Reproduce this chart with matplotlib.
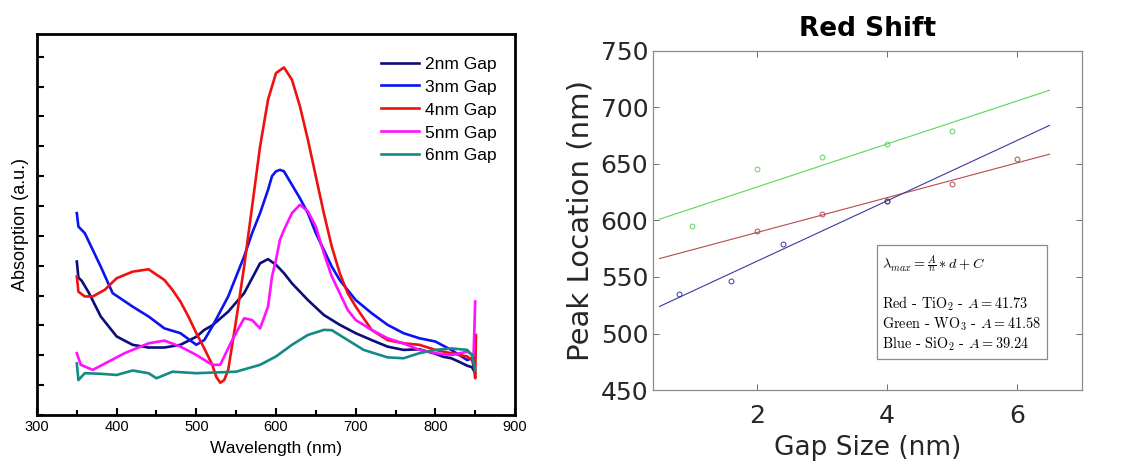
"""Absorption spectra for gap sizes and red-shift of the peak location."""

import matplotlib
matplotlib.use("Agg")
import matplotlib.pyplot as plt
import numpy as np
from matplotlib.ticker import MultipleLocator

# ---- left panel: absorption spectra (arbitrary units) ----
wl_2nm = [350, 352, 356, 365, 380, 400, 420, 440, 460, 480, 500, 510, 520, 540, 560, 570, 580,
          590, 600, 610, 620, 640, 660, 680, 700, 720, 740, 760, 780, 800, 810, 820, 830, 840,
          846, 850]
abs_2nm = [0.514, 0.46, 0.45, 0.41, 0.33, 0.263, 0.235, 0.226, 0.226, 0.235, 0.262, 0.285,
           0.300, 0.346, 0.408, 0.458, 0.508, 0.522, 0.503, 0.475, 0.441, 0.385, 0.335, 0.302,
           0.274, 0.251, 0.229, 0.218, 0.220, 0.205, 0.195, 0.190, 0.178, 0.165, 0.160, 0.140]

wl_3nm = [350, 352, 360, 380, 395, 420, 440, 460, 480, 500, 510, 520, 540, 560, 570, 580, 590,
          595, 600, 605, 610, 620, 630, 640, 650, 660, 670, 680, 700, 720, 740, 760, 780, 800,
          820, 840, 846, 848, 850]
abs_3nm = [0.676, 0.631, 0.609, 0.497, 0.408, 0.363, 0.330, 0.290, 0.274, 0.235, 0.251, 0.296,
           0.397, 0.531, 0.609, 0.676, 0.754, 0.800, 0.816, 0.821, 0.816, 0.771, 0.726, 0.676,
           0.609, 0.553, 0.497, 0.452, 0.385, 0.341, 0.302, 0.274, 0.257, 0.246, 0.218, 0.184,
           0.190, 0.162, 0.200]

wl_4nm = [350, 352, 360, 370, 385, 400, 420, 440, 460, 470, 480, 490, 500, 510, 520, 525, 530,
          535, 540, 550, 560, 570, 580, 590, 600, 610, 620, 630, 640, 650, 660, 670, 680, 690,
          700, 720, 740, 760, 780, 800, 820, 840, 848, 850, 851]
abs_4nm = [0.464, 0.413, 0.397, 0.397, 0.419, 0.458, 0.480, 0.488, 0.452, 0.419, 0.380, 0.330,
           0.274, 0.223, 0.168, 0.128, 0.108, 0.117, 0.151, 0.318, 0.497, 0.698, 0.899, 1.056,
           1.145, 1.164, 1.123, 1.034, 0.922, 0.799, 0.676, 0.564, 0.475, 0.408, 0.363, 0.285,
           0.251, 0.240, 0.235, 0.218, 0.207, 0.196, 0.180, 0.123, 0.268]

wl_5nm = [350, 355, 370, 390, 410, 440, 460, 480, 500, 520, 530, 545, 560, 570, 580, 590, 595,
          600, 605, 610, 620, 630, 640, 650, 660, 670, 680, 690, 700, 720, 740, 760, 780, 800,
          820, 840, 848, 850]
abs_5nm = [0.207, 0.168, 0.151, 0.179, 0.207, 0.240, 0.249, 0.229, 0.201, 0.168, 0.168, 0.251,
           0.324, 0.318, 0.290, 0.363, 0.464, 0.520, 0.587, 0.620, 0.676, 0.704, 0.682, 0.631,
           0.542, 0.464, 0.408, 0.352, 0.318, 0.285, 0.257, 0.240, 0.218, 0.207, 0.201, 0.212,
           0.200, 0.380]

wl_6nm = [350, 352, 360, 380, 400, 420, 440, 450, 470, 500, 550, 580, 600, 620, 640, 660, 670,
          690, 710, 740, 760, 780, 800, 820, 840, 846, 850]
abs_6nm = [0.173, 0.117, 0.140, 0.138, 0.134, 0.149, 0.140, 0.123, 0.145, 0.140, 0.145, 0.168,
           0.196, 0.235, 0.268, 0.285, 0.284, 0.251, 0.218, 0.193, 0.190, 0.207, 0.218, 0.223,
           0.218, 0.200, 0.151]

spectra = [
    ("2nm Gap", wl_2nm, abs_2nm, "#0c0c7a"),
    ("3nm Gap", wl_3nm, abs_3nm, "#0a14f0"),
    ("4nm Gap", wl_4nm, abs_4nm, "#f01010"),
    ("5nm Gap", wl_5nm, abs_5nm, "#ff10ff"),
    ("6nm Gap", wl_6nm, abs_6nm, "#138a85"),
]

# ---- right panel: peak location vs gap size ----
gap_red = [2, 3, 4, 5, 6]
peak_red = [591, 605.7, 617.3, 632.3, 654.7]
gap_green = [1, 2, 3, 4, 5]
peak_green = [594.8, 646, 656, 667.4, 679.2]
gap_blue = [0.8, 1.6, 2.4, 4.0]
peak_blue = [535, 546.4, 578.9, 617]

fits = [
    (gap_red, peak_red, "#b84a4a"),
    (gap_green, peak_green, "#5fd35f"),
    (gap_blue, peak_blue, "#3a3a9a"),
]

fig = plt.figure(figsize=(11.45, 4.61), dpi=100)

# Left: spectra
ax1 = fig.add_axes([0.0323, 0.0998, 0.4175, 0.8265])
for label, wl, ab, color in spectra:
    ax1.plot(wl, ab, color=color, lw=1.9, label=label)
ax1.set_xlim(300, 900)
ax1.set_ylim(0, 1.276)
ax1.xaxis.set_major_locator(MultipleLocator(100))
ax1.xaxis.set_minor_locator(MultipleLocator(50))
ax1.yaxis.set_major_locator(MultipleLocator(0.2))
ax1.yaxis.set_minor_locator(MultipleLocator(0.1))
ax1.set_yticklabels([])
ax1.tick_params(which="both", direction="in", top=False, right=False, width=1.5,
                labelsize=10.5, labelfontfamily="Liberation Sans")
ax1.tick_params(which="major", length=5)
ax1.tick_params(which="minor", length=3.5)
ax1.tick_params(axis="y", which="both", length=5)
for sp in ax1.spines.values():
    sp.set_linewidth(2)
ax1.set_xlabel("Wavelength (nm)", family="Liberation Sans", fontsize=12.5, labelpad=5)
ax1.set_ylabel("Absorption (a.u.)", family="Liberation Sans", fontsize=13, labelpad=2)
ax1.legend(loc="upper left", bbox_to_anchor=(0.72, 0.941), frameon=False,
           prop={"family": "Liberation Sans", "size": 12.5}, handlelength=2.2,
           handletextpad=0.35, labelspacing=0.45, borderaxespad=0, borderpad=0)

# Right: red shift
ax2 = fig.add_axes([0.5703, 0.154, 0.3747, 0.7354])
xfit = np.array([0.5, 6.5])
for gx, gy, color in fits:
    slope, icpt = np.polyfit(gx, gy, 1)
    ax2.plot(xfit, slope * xfit + icpt, color=color, lw=0.8)
    ax2.plot(gx, gy, "o", mfc="none", mec=color, ms=3.5, mew=0.7)
ax2.set_xlim(0.4, 7.0)
ax2.set_ylim(450, 750)
ax2.set_xticks([2, 4, 6])
ax2.set_yticks(np.arange(450, 751, 50))
ax2.tick_params(direction="in", top=True, right=True, length=4, width=0.6,
                color="#555555", labelsize=18, labelcolor="#262626")
ax2.tick_params(axis="x", pad=10)
for sp in ax2.spines.values():
    sp.set_color("#8c8c8c")
    sp.set_linewidth(0.9)
ax2.set_xlabel("Gap Size (nm)", fontsize=19, color="#262626", labelpad=5)
ax2.set_ylabel("Peak Location (nm)", fontsize=21, color="#262626", labelpad=4)
ax2.set_title("Red Shift", fontsize=19, fontweight="bold", pad=11)

info = ("$\\lambda_{max} = \\frac{A}{n} * d + C$\n\n"
        "Red - TiO$_2$ - $A = 41.73$\n"
        "Green - WO$_3$ - $A = 41.58$\n"
        "Blue - SiO$_2$ - $A = 39.24$")
with plt.rc_context({"mathtext.fontset": "cm"}):
    ax2.text(3.93, 571, info, fontsize=10.3, family="cmr10", va="top", ha="left",
             linespacing=1.2,
             bbox=dict(boxstyle="square,pad=0.4", fc="white", ec="#8c8c8c", lw=0.9))

fig.savefig("out.png", dpi=100)
